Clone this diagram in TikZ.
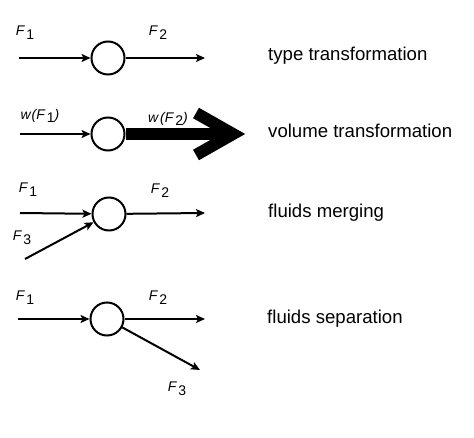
\documentclass[tikz,border=0pt]{standalone}
\usepackage{fontspec}
\setmainfont{Liberation Sans}
\usetikzlibrary{arrows.meta,calc}
\begin{document}
\begin{tikzpicture}[x=1pt,y=-1pt,
  flow/.style={line width=2pt,-{Stealth[length=9pt,width=8pt,inset=2pt]}},
  proc/.style={circle,draw,line width=2pt,minimum size=33pt,inner sep=0pt},
  lab/.style={font=\fontsize{14}{16}\selectfont\itshape,inner sep=0pt},
  desc/.style={font=\fontsize{18.6}{21}\selectfont,anchor=west,inner sep=0pt},
  heavy/.style={line width=12pt}]
\useasboundingbox (0,0) rectangle (474,438);
\newcommand{\sbs}[1]{\kern2pt\raisebox{-0.5ex}{\upshape #1}}
% row 1
\node[proc] (c1) at (108,58) {};
\coordinate (i1) at (19,58);
\coordinate (o1) at (205,58);
\draw[flow] (i1) -- (c1);
\draw[flow] (c1) -- (o1);
\node[lab] (l1a) at (25,33) {F\sbs{1}};
\node[lab] (l1b) at (158,33) {F\sbs{2}};
\node[desc] (t1) at (268,56) {type transformation};
% row 2
\node[proc] (c2) at (108,134) {};
\coordinate (i2) at (20,134);
\coordinate (v2) at (233,134);
\draw[flow] (i2) -- (c2);
\node[lab] (l2a) at (40,116) {w\kern1pt(F\sbs{1})};
\node[lab] (l2b) at (168,119) {w\kern2pt(F\sbs{2})};
\draw[heavy] (c2.east) -- ($(v2)+(-6,0)$);
\draw[heavy,line join=miter] ($(v2)+(-37,-21)$) -- (v2) -- ($(v2)+(-37,21)$);
\node[desc] (t2) at (268,131) {volume transformation};
% row 3
\node[proc] (c3) at (109,214) {};
\coordinate (i3) at (20,213);
\coordinate (o3) at (205,213);
\coordinate (s3) at (25,259);
\draw[flow] (i3) -- (c3);
\draw[flow] (s3) -- (c3);
\draw[flow] (c3) -- (o3);
\node[lab] (l3a) at (28,190) {F\sbs{1}};
\node[lab] (l3b) at (160,191) {F\sbs{2}};
\node[lab] (l3c) at (22,238) {F\sbs{3}};
\node[desc] (t3) at (268,213) {fluids merging};
% row 4
\node[proc] (c4) at (107,319) {};
\coordinate (i4) at (18,319);
\coordinate (o4) at (205,319);
\coordinate (e4) at (200,370);
\draw[flow] (i4) -- (c4);
\draw[flow] (c4) -- (o4);
\draw[flow] (c4) -- (e4);
\node[lab] (l4a) at (25,298) {F\sbs{1}};
\node[lab] (l4b) at (158,298) {F\sbs{2}};
\node[lab] (l4c) at (177,389) {F\sbs{3}};
\node[desc] (t4) at (267,319) {fluids separation};
\end{tikzpicture}
\end{document}
